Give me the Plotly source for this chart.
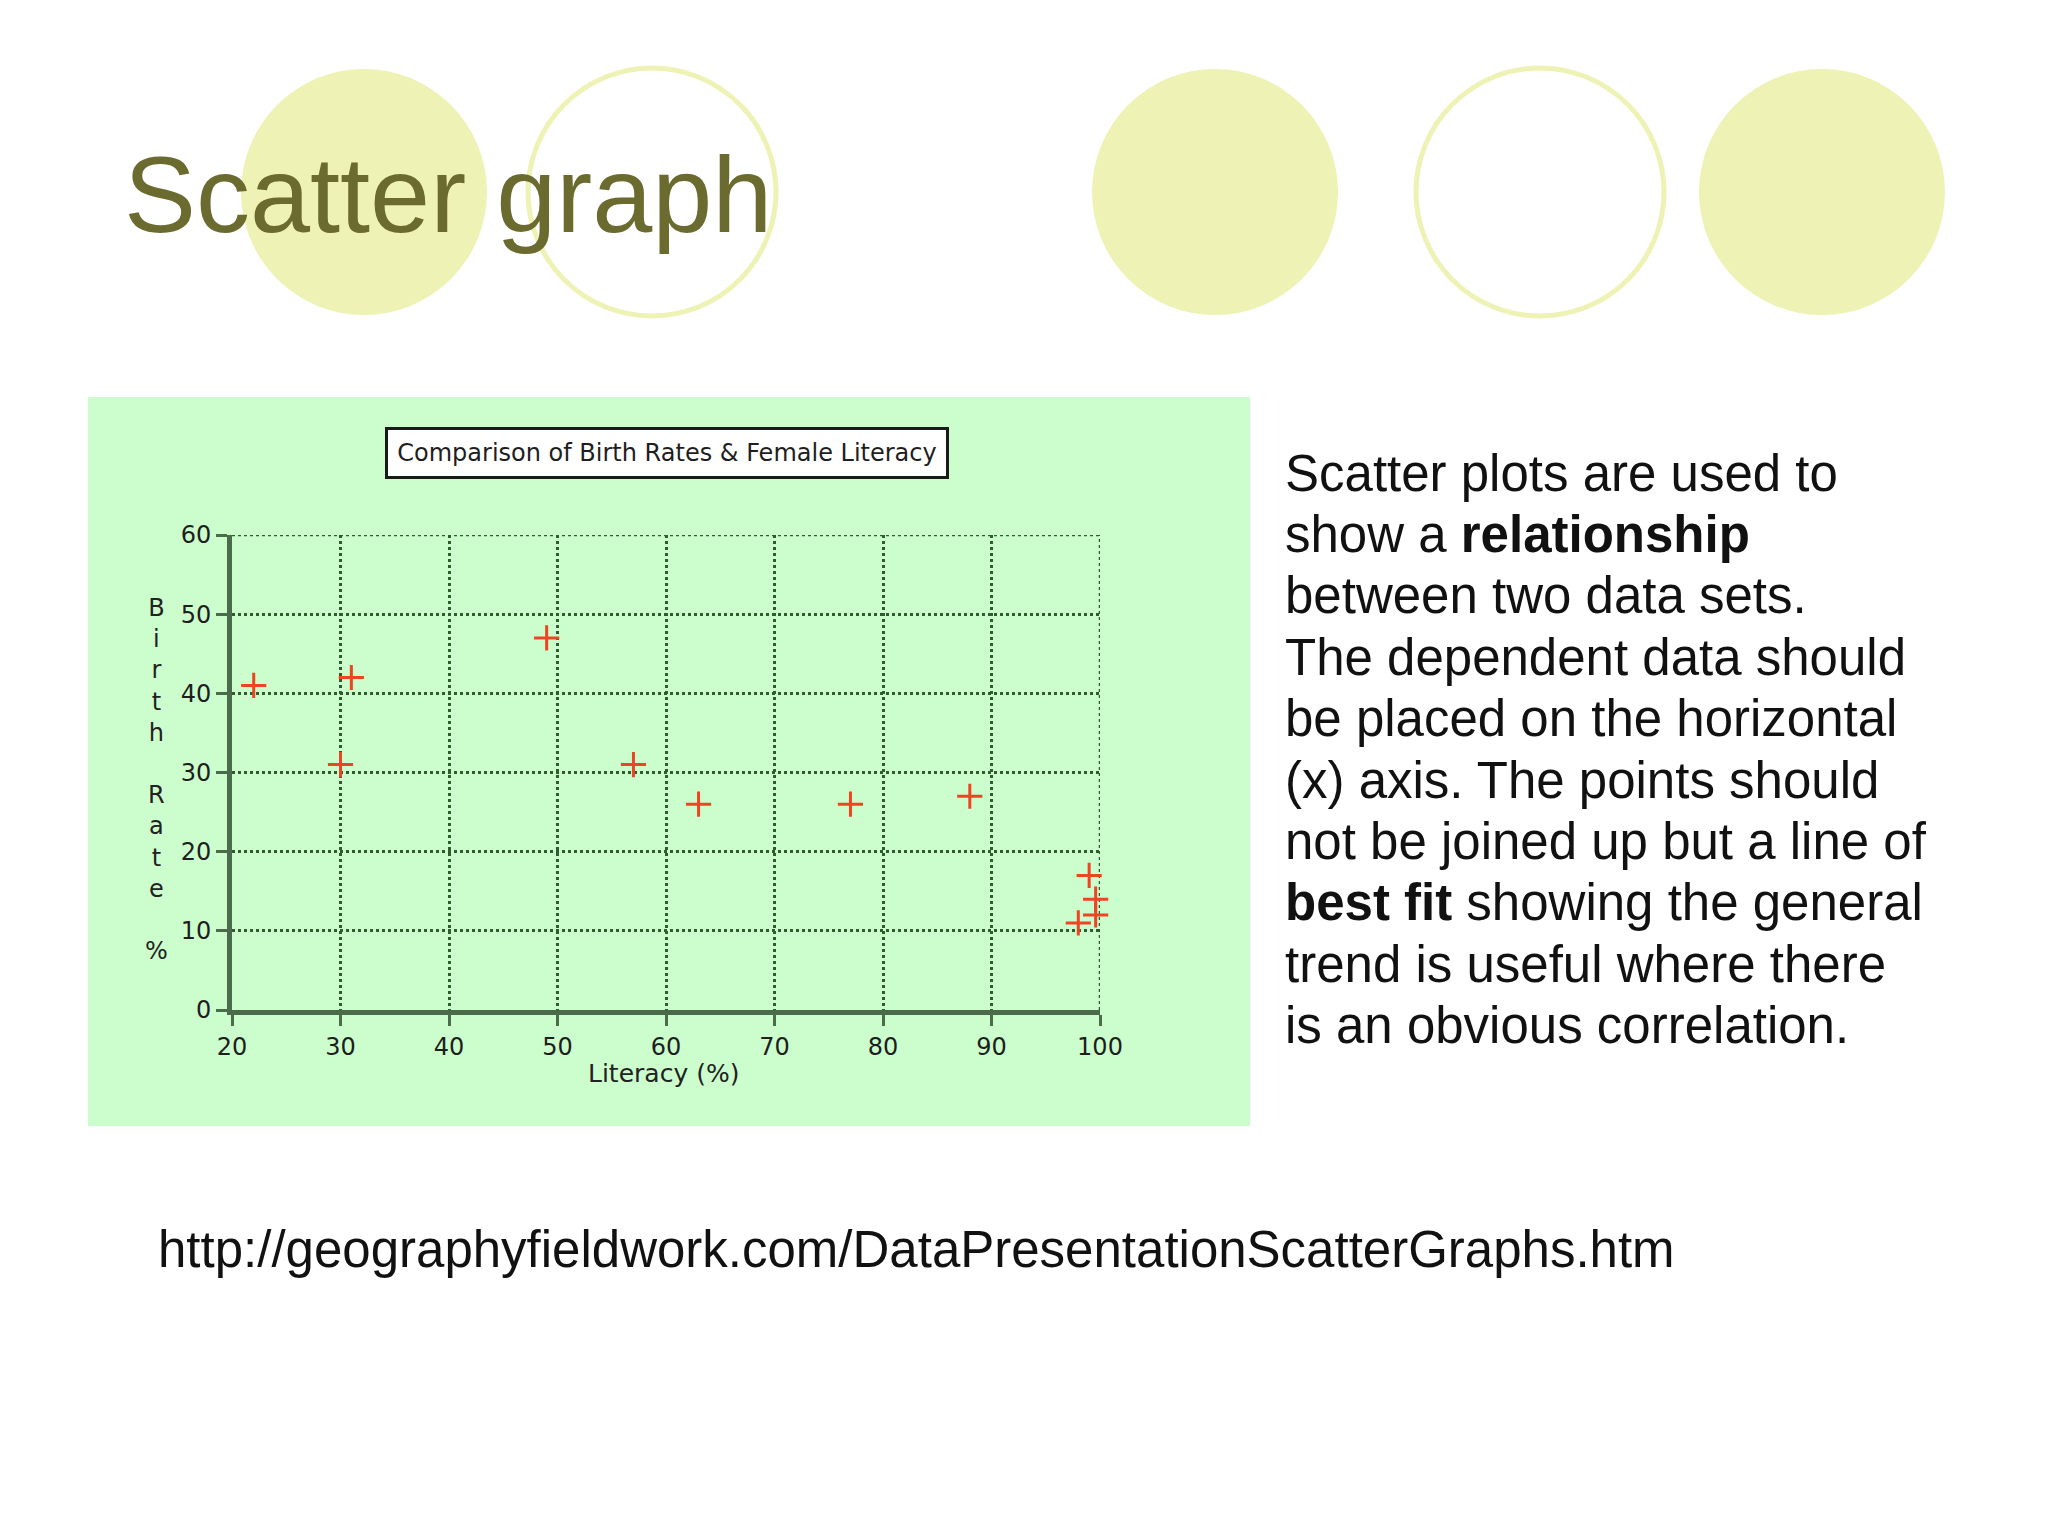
import plotly.graph_objects as go

# ---- data ----
literacy = [22, 30, 31, 49, 57, 63, 77, 88, 98, 99, 99.6, 99.6]
birth_rate = [41, 31, 42, 47, 31, 26, 26, 27, 11, 17, 14, 12]
x_ticks = [20, 30, 40, 50, 60, 70, 80, 90, 100]
y_ticks = [0, 10, 20, 30, 40, 50, 60]
x_range = [20, 100]
y_range = [0, 60]

chart_title = "Comparison of Birth Rates &amp; Female Literacy"
x_title = "Literacy (%)"
y_title_letters = ["B", "i", "r", "t", "h", "", "R", "a", "t", "e", "", "%"]
slide_title = "Scatter graph"
body_lines = [
    "Scatter plots are used to",
    "show a <b>relationship</b>",
    "between two data sets.",
    "The dependent data should",
    "be placed on the horizontal",
    "(x) axis. The points should",
    "not be joined up but a line of",
    "<b>best fit</b> showing the general",
    "trend is useful where there",
    "is an obvious correlation.",
]
url_text = "http://geographyfieldwork.com/DataPresentationScatterGraphs.htm"

W, H = 2048, 1536
OFF = 8  # page body margin in the browser


def X(px):
    return (px - OFF) / W


def Y(py):
    return 1 - (py - OFF) / H


GRID = "#305a30"
AXIS = "#4b6b4b"
CIRCLE = "#EEF2B4"
OLIVE = "#6B6B30"
TICKFONT = dict(family="DejaVu Sans", size=24, color="#1e1e1e")

fig = go.Figure()
fig.add_trace(go.Scatter(
    x=literacy, y=birth_rate, mode="markers",
    marker=dict(symbol="cross-thin", size=18,
                line=dict(color="#EE4424", width=3)),
    cliponaxis=False, hoverinfo="skip", showlegend=False,
))

shapes = []
# decorative circles
for cx, filled in [(364, True), (652, False), (1215, True), (1540, False), (1822, True)]:
    r = 123 if filled else 124
    shapes.append(dict(
        type="circle", xref="paper", yref="paper", layer="below",
        x0=X(cx - r), x1=X(cx + r), y0=Y(192 + r), y1=Y(192 - r),
        fillcolor=CIRCLE if filled else "rgba(0,0,0,0)",
        line=dict(color=CIRCLE, width=0 if filled else 5),
    ))
# green panel
shapes.append(dict(
    type="rect", xref="paper", yref="paper", layer="below",
    x0=X(88), x1=X(1250), y0=Y(1126), y1=Y(397),
    fillcolor="#CCFDCC", line=dict(width=0),
))
# dotted gridlines on the top and right edges of the plot
shapes.append(dict(
    type="line", xref="x", yref="y", layer="below",
    x0=x_range[0], x1=x_range[1], y0=y_range[1], y1=y_range[1],
    line=dict(color=GRID, width=2.5, dash="dot"),
))
shapes.append(dict(
    type="line", xref="x", yref="y", layer="below",
    x0=x_range[1], x1=x_range[1], y0=y_range[0], y1=y_range[1],
    line=dict(color=GRID, width=2.5, dash="dot"),
))

annotations = []
annotations.append(dict(
    text=slide_title, xref="paper", yref="paper", x=X(122), y=Y(194),
    xanchor="left", yanchor="middle", showarrow=False,
    font=dict(family="Liberation Sans", size=108, color=OLIVE),
))
annotations.append(dict(
    text=chart_title, xref="paper", yref="paper", x=X(667), y=Y(453),
    xanchor="center", yanchor="middle", showarrow=False,
    bgcolor="white", bordercolor="#1a1a1a", borderwidth=3, borderpad=0,
    width=558, height=46,
    font=dict(family="DejaVu Sans", size=24, color="#1e1e1e"),
))
annotations.append(dict(
    text=x_title, xref="paper", yref="paper", x=X(663), y=Y(1073),
    xanchor="center", yanchor="middle", showarrow=False,
    font=dict(family="DejaVu Sans", size=25, color="#222222"),
))
annotations.append(dict(
    text="<br>".join(y_title_letters), xref="paper", yref="paper",
    x=X(156), y=Y(779), xanchor="center", yanchor="middle", showarrow=False,
    font=dict(family="DejaVu Sans", size=24, color="#222222"),
))
for i, line in enumerate(body_lines):
    annotations.append(dict(
        text=line, xref="paper", yref="paper", x=X(1283), y=Y(473 + i * 61.4),
        xanchor="left", yanchor="middle", showarrow=False,
        font=dict(family="Liberation Sans", size=51, color="#111111"),
    ))
annotations.append(dict(
    text=url_text, xref="paper", yref="paper", x=X(156), y=Y(1249),
    xanchor="left", yanchor="middle", showarrow=False,
    font=dict(family="Liberation Sans", size=51, color="#111111"),
))

axis_common = dict(
    showgrid=True, gridcolor=GRID, griddash="dot", gridwidth=2.5,
    showline=True, linecolor=AXIS, linewidth=5,
    ticks="outside", ticklen=11, tickwidth=3, tickcolor=AXIS,
    tickfont=TICKFONT, automargin=False,
    zeroline=False, fixedrange=True,
)

fig.update_layout(
    width=W, height=H, autosize=False,
    margin=dict(l=0, r=0, t=0, b=0, pad=0, autoexpand=False),
    paper_bgcolor="white", plot_bgcolor="rgba(0,0,0,0)",
    shapes=shapes, annotations=annotations, showlegend=False,
    xaxis=dict(domain=[X(232), X(1100)], range=x_range, tickvals=x_ticks,
               ticktext=[str(v) for v in x_ticks], **axis_common),
    yaxis=dict(domain=[Y(1010), Y(535)], range=y_range, tickvals=y_ticks,
               ticktext=[str(v) for v in y_ticks], **axis_common),
)

fig.write_html("out.html")
